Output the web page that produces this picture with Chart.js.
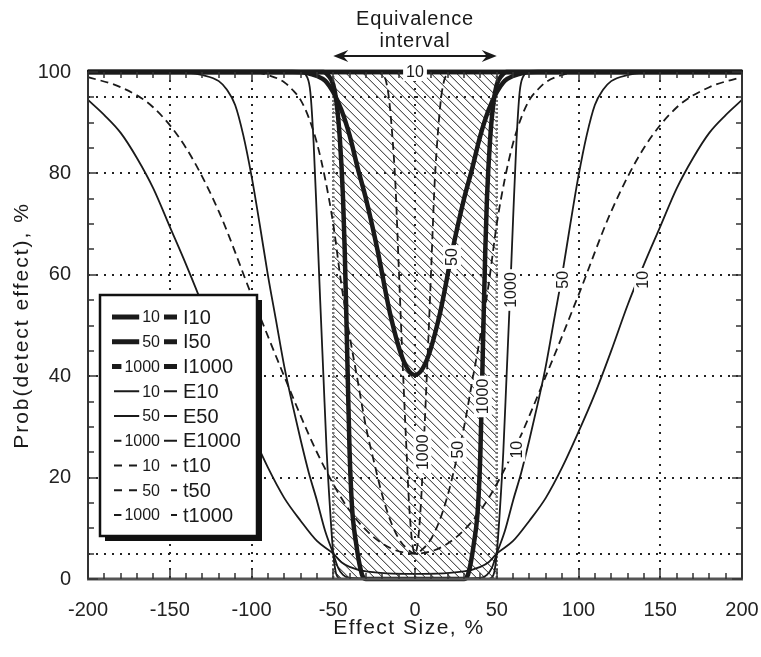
<!DOCTYPE html>
<html>
<head>
<meta charset="utf-8">
<script src="https://cdn.jsdelivr.net/npm/chart.js@4.4.1/dist/chart.umd.min.js"></script>
<style>
  html, body { margin: 0; padding: 0; background: #fff; }
  #wrap { width: 761px; height: 657px; }
</style>
</head>
<body>
<div id="wrap"><canvas id="chart" width="761" height="657"></canvas></div>
<script>
// Axis ticks and reference lines
const xTicks = [-200, -150, -100, -50, 0, 50, 100, 150, 200];
const yTicks = [0, 20, 40, 60, 80, 100];
const xGrid = [-150, -100, -50, 0, 50, 100, 150];
const yGrid = [5, 20, 40, 60, 80, 95];
const equivRange = [-50, 50];

// Curves: effect size (%) -> prob(detect effect) (%)
const xI10 = [-200, -150, -100, -50, 0, 50, 100, 150, 200];
const yI10 = [100, 100, 100, 100, 100, 100, 100, 100, 100];

const xI50 = [-200, -100, -75, -66, -60, -55, -50, -45, -40, -35, -30, -23, -15, -7, 0, 7, 15, 23, 30, 35, 40, 45, 50, 55, 60, 66, 75, 100, 200];
const yI50 = [100, 100, 100, 99.8, 99.2, 98.3, 96, 92.5, 87.5, 81, 75, 65, 52, 43, 40.2, 43, 52, 65, 75, 81, 87.5, 92.5, 96, 98.3, 99.2, 99.8, 100, 100, 100];

const xI1000 = [-200, -60, -56, -53, -50, -48, -46, -44, -43, -42, -41, -40, -39, -38, -36, -34, -32, -30, 0, 30, 32, 34, 36, 38, 39, 40, 41, 42, 43, 44, 46, 48, 50, 53, 56, 60, 200];
const yI1000 = [100, 100, 100, 99.3, 97.5, 94, 87, 75, 65, 52, 38, 25, 17, 12, 7, 3, 0.5, 0, 0, 0, 0.5, 3, 7, 12, 17, 25, 38, 52, 65, 75, 87, 94, 97.5, 99.3, 100, 100, 100];

const xE10 = [-200, -190, -180, -170, -160, -150, -140, -130, -120, -110, -100, -90, -80, -70, -60, -50, -45, -40, -30, 0, 30, 40, 45, 50, 60, 70, 80, 90, 100, 110, 120, 130, 140, 150, 160, 170, 180, 190, 200];
const yE10 = [94.5, 91.5, 88, 83, 77, 69.5, 62, 54, 45, 36.5, 29, 22, 16, 11.5, 7.5, 5, 3.3, 2.4, 1.5, 1, 1.5, 2.4, 3.3, 5, 7.5, 11.5, 16, 22, 29, 36.5, 45, 54, 62, 69.5, 77, 83, 88, 91.5, 94.5];

const xE50 = [-200, -150, -140, -130, -120, -115, -110, -105, -100, -95, -90, -85, -80, -75, -70, -65, -60, -55, -50, -47, -44, -40, 0, 40, 44, 47, 50, 55, 60, 65, 70, 75, 80, 85, 90, 95, 100, 105, 110, 115, 120, 130, 140, 150, 200];
const yE50 = [100, 100, 99.9, 99.4, 98.2, 96.5, 93.5, 87.5, 79.5, 70, 60, 51, 42, 34.5, 27.5, 21, 15.5, 9.5, 5, 2.2, 0.8, 0.2, 0, 0.2, 0.8, 2.2, 5, 9.5, 15.5, 21, 27.5, 34.5, 42, 51, 60, 70, 79.5, 87.5, 93.5, 96.5, 98.2, 99.4, 99.9, 100, 100];

const xE1000 = [-200, -70, -66, -64, -62, -60, -58, -56, -54, -52, -50, -48, -45, 0, 45, 48, 50, 52, 54, 56, 58, 60, 62, 64, 66, 70, 200];
const yE1000 = [100, 100, 99, 96, 86, 71, 55, 40, 25, 14, 5, 0.8, 0, 0, 0, 0.8, 5, 14, 25, 40, 55, 71, 86, 96, 99, 100, 100];

const xT10 = [-200, -180, -160, -140, -120, -100, -80, -60, -40, -20, 0, 20, 40, 60, 80, 100, 120, 140, 160, 180, 200];
const yT10 = [99, 97, 93, 85, 72.5, 56, 40, 25, 13.5, 7, 5, 7, 13.5, 25, 40, 56, 72.5, 85, 93, 97, 99];

const xT50 = [-200, -100, -90, -80, -75, -70, -65, -60, -55, -50, -45, -40, -35, -30, -25, -20, -15, -10, -5, 0, 5, 10, 15, 20, 25, 30, 35, 40, 45, 50, 55, 60, 65, 70, 75, 80, 90, 100, 200];
const yT50 = [100, 100, 99.4, 98, 96.5, 94.5, 91, 86, 79, 70, 58, 48, 39, 30, 23, 16.5, 11.5, 8, 6, 5, 6, 8, 11.5, 16.5, 23, 30, 39, 48, 58, 70, 79, 86, 91, 94.5, 96.5, 98, 99.4, 100, 100];

const xT1000 = [-200, -25, -20, -18, -16, -14, -12, -10, -8, -6, -5, -4, -2, 0, 2, 4, 5, 6, 8, 10, 12, 14, 16, 18, 20, 25, 200];
const yT1000 = [100, 100, 99.5, 98.5, 95, 88, 78, 62, 46, 31, 24, 17, 8, 5, 8, 17, 24, 31, 46, 62, 78, 88, 95, 98.5, 99.5, 100, 100];

const series = [
    { name: 'I10', tag: '10', kind: 'I', xs: xI10, ys: yI10 },
    { name: 'I50', tag: '50', kind: 'I', xs: xI50, ys: yI50 },
    { name: 'I1000', tag: '1000', kind: 'I', xs: xI1000, ys: yI1000 },
    { name: 'E10', tag: '10', kind: 'E', xs: xE10, ys: yE10 },
    { name: 'E50', tag: '50', kind: 'E', xs: xE50, ys: yE50 },
    { name: 'E1000', tag: '1000', kind: 'E', xs: xE1000, ys: yE1000 },
    { name: 't10', tag: '10', kind: 't', xs: xT10, ys: yT10 },
    { name: 't50', tag: '50', kind: 't', xs: xT50, ys: yT50 },
    { name: 't1000', tag: '1000', kind: 't', xs: xT1000, ys: yT1000 }
];

// inline contour-style labels (data coordinates)
const curveLabels = [
    { text: '10', x: 0, y: 100, flat: true },
    { text: '50', x: 22.6, y: 63.5 },
    { text: '1000', x: 41.5, y: 36 },
    { text: '1000', x: 58.5, y: 57 },
    { text: '50', x: 90.5, y: 59 },
    { text: '10', x: 139.5, y: 59 },
    { text: '10', x: 62, y: 25.5 },
    { text: '50', x: 26, y: 25.5 },
    { text: '1000', x: 4.5, y: 25 }
];

const FONT = '"Liberation Sans", Arial, Helvetica, sans-serif';
const INK = '#1a1a1a';
const lineStyles = {
    I: { width: 4.5, dash: [] },
    E: { width: 1.8, dash: [] },
    t: { width: 1.8, dash: [8, 5] }
};

function arrowHead(ctx, x, y, dir) {
    ctx.beginPath();
    ctx.moveTo(x, y);
    ctx.lineTo(x - dir * 15, y - 6);
    ctx.lineTo(x - dir * 10, y);
    ctx.lineTo(x - dir * 15, y + 6);
    ctx.closePath();
    ctx.fill();
}

const decor = {
    id: 'decor',
    beforeDatasetsDraw(chart) {
        const { ctx, chartArea: a, scales: { x, y } } = chart;
        const l = x.getPixelForValue(equivRange[0]);
        const r = x.getPixelForValue(equivRange[1]);
        const t = y.getPixelForValue(100);
        const b = y.getPixelForValue(0);

        // hatched equivalence interval
        ctx.save();
        ctx.beginPath();
        ctx.rect(l, t, r - l, b - t);
        ctx.clip();
        ctx.strokeStyle = '#222';
        ctx.lineWidth = 1;
        ctx.beginPath();
        for (let k = l - (b - t); k < r; k += 8.5) {
            ctx.moveTo(k, t);
            ctx.lineTo(k + (b - t), b);
        }
        ctx.stroke();
        ctx.restore();

        // dotted grid
        ctx.save();
        ctx.strokeStyle = '#222';
        ctx.lineWidth = 2;
        ctx.setLineDash([2, 6]);
        xGrid.forEach(v => {
            const px = Math.round(x.getPixelForValue(v));
            ctx.beginPath();
            ctx.moveTo(px, a.top);
            ctx.lineTo(px, a.bottom);
            ctx.stroke();
        });
        yGrid.forEach(v => {
            const py = Math.round(y.getPixelForValue(v));
            ctx.beginPath();
            ctx.moveTo(a.left, py);
            ctx.lineTo(a.right, py);
            ctx.stroke();
        });
        // grey dotted edge of the interval
        ctx.strokeStyle = '#777';
        ctx.lineWidth = 2.5;
        ctx.setLineDash([2, 2]);
        [l, r].forEach(px => {
            ctx.beginPath();
            ctx.moveTo(px, t);
            ctx.lineTo(px, b);
            ctx.stroke();
        });
        ctx.restore();
    },
    afterDatasetsDraw(chart) {
        const { ctx, chartArea: a, scales: { x, y } } = chart;
        ctx.save();

        // frame: heavy top (the I10 curve runs along it), grey bottom
        ctx.strokeStyle = '#333';
        ctx.lineWidth = 2;
        ctx.beginPath();
        ctx.moveTo(a.left, a.top); ctx.lineTo(a.left, a.bottom);
        ctx.moveTo(a.right, a.top); ctx.lineTo(a.right, a.bottom);
        ctx.stroke();
        ctx.strokeStyle = INK;
        ctx.lineWidth = 4.5;
        ctx.beginPath();
        ctx.moveTo(a.left - 1, y.getPixelForValue(100));
        ctx.lineTo(a.right + 1, y.getPixelForValue(100));
        ctx.stroke();
        ctx.strokeStyle = '#555';
        ctx.lineWidth = 3;
        ctx.beginPath();
        ctx.moveTo(a.left - 1, a.bottom); ctx.lineTo(a.right + 1, a.bottom);
        ctx.stroke();

        // tick marks on all four sides
        ctx.strokeStyle = '#333';
        ctx.lineWidth = 1.5;
        ctx.beginPath();
        for (let v = -200; v <= 200; v += 10) {
            const px = Math.round(x.getPixelForValue(v));
            const len = v % 50 === 0 ? 10 : 6;
            ctx.moveTo(px, a.bottom); ctx.lineTo(px, a.bottom - len);
            ctx.moveTo(px, a.top); ctx.lineTo(px, a.top + len);
        }
        for (let v = 0; v <= 100; v += 5) {
            const py = Math.round(y.getPixelForValue(v));
            const len = v % 20 === 0 ? 10 : 6;
            ctx.moveTo(a.left, py); ctx.lineTo(a.left + len, py);
            ctx.moveTo(a.right, py); ctx.lineTo(a.right - len, py);
        }
        ctx.stroke();

        // labels sitting on the curves
        ctx.font = '16px ' + FONT;
        ctx.textAlign = 'center';
        ctx.textBaseline = 'middle';
        curveLabels.forEach(lb => {
            const px = x.getPixelForValue(lb.x);
            const py = y.getPixelForValue(lb.y);
            const w = ctx.measureText(lb.text).width + 6;
            ctx.save();
            ctx.translate(px, py);
            if (!lb.flat) ctx.rotate(-Math.PI / 2);
            ctx.fillStyle = '#fff';
            ctx.fillRect(-w / 2, -9, w, 18);
            ctx.fillStyle = INK;
            ctx.fillText(lb.text, 0, 1);
            ctx.restore();
        });

        // legend box with drop shadow
        const bx = 100, by = 295, bw = 157, bh = 241;
        ctx.fillStyle = '#111';
        ctx.fillRect(bx + 5, by + 5, bw, bh);
        ctx.fillStyle = '#fff';
        ctx.fillRect(bx, by, bw, bh);
        ctx.strokeStyle = '#111';
        ctx.lineWidth = 2.5;
        ctx.strokeRect(bx, by, bw, bh);

        series.forEach((s, i) => {
            const ry = 317 + i * 24.75;
            ctx.font = '16px ' + FONT;
            const tw = ctx.measureText(s.tag).width;
            const tl = 160 - tw;
            ctx.strokeStyle = INK;
            ctx.lineWidth = s.kind === 'I' ? 5 : 2;
            ctx.setLineDash(s.kind === 't' ? [8, 7] : []);
            ctx.beginPath();
            ctx.moveTo(s.kind === 'I' ? 112 : 114, ry);
            ctx.lineTo(tl - 3, ry);
            ctx.stroke();
            ctx.setLineDash([]);
            ctx.beginPath();
            ctx.moveTo(s.kind === 't' ? 171 : 164, ry);
            ctx.lineTo(177, ry);
            ctx.stroke();
            ctx.fillStyle = INK;
            ctx.textAlign = 'left';
            ctx.textBaseline = 'middle';
            ctx.fillText(s.tag, tl, ry + 1);
            ctx.font = '20px ' + FONT;
            ctx.fillText(s.name, 183, ry + 1);
        });

        // heading and arrow over the interval
        const l = x.getPixelForValue(equivRange[0]);
        const r = x.getPixelForValue(equivRange[1]);
        const mid = (l + r) / 2;
        ctx.fillStyle = INK;
        ctx.font = '20px ' + FONT;
        ctx.letterSpacing = '0.8px';
        ctx.textAlign = 'center';
        ctx.textBaseline = 'middle';
        ctx.fillText('Equivalence', mid, 19);
        ctx.fillText('interval', mid, 41);
        ctx.strokeStyle = INK;
        ctx.lineWidth = 2;
        ctx.beginPath();
        ctx.moveTo(l + 8, 56);
        ctx.lineTo(r - 8, 56);
        ctx.stroke();
        arrowHead(ctx, l, 56, -1);
        arrowHead(ctx, r, 56, 1);

        // axis titles
        ctx.font = '21px ' + FONT;
        ctx.letterSpacing = '1.5px';
        ctx.fillText('Effect Size, %', (a.left + a.right) / 2 - 6, 628);
        ctx.save();
        ctx.translate(22, (a.top + a.bottom) / 2);
        ctx.rotate(-Math.PI / 2);
        ctx.letterSpacing = '2px';
        ctx.fillText('Prob(detect effect), %', 0, 0);
        ctx.restore();
        ctx.restore();
    }
};

document.addEventListener('DOMContentLoaded', () => {
    const ctx = document.getElementById('chart').getContext('2d');
    new Chart(ctx, {
        type: 'scatter',
        data: {
            datasets: series.map(s => ({
                label: s.name,
                data: s.xs.map((v, i) => ({ x: v, y: s.ys[i] })),
                showLine: true,
                fill: false,
                pointRadius: 0,
                borderColor: INK,
                borderWidth: lineStyles[s.kind].width,
                borderDash: lineStyles[s.kind].dash,
                cubicInterpolationMode: 'monotone',
                clip: false
            }))
        },
        options: {
            responsive: false,
            animation: false,
            devicePixelRatio: 1,
            events: [],
            layout: { padding: { top: 72, right: 19, left: 0, bottom: 0 } },
            plugins: {
                legend: { display: false },
                tooltip: { enabled: false }
            },
            scales: {
                x: {
                    type: 'linear',
                    min: -200,
                    max: 200,
                    afterBuildTicks: s => { s.ticks = xTicks.map(v => ({ value: v })); },
                    afterFit: s => {
                        s.height = 78;
                        s.paddingLeft = 0;
                        s.paddingRight = 0;
                    },
                    grid: { display: false, drawTicks: false },
                    border: { display: false },
                    ticks: {
                        color: '#222',
                        font: { size: 20, family: FONT },
                        padding: 19,
                        maxRotation: 0,
                        autoSkip: false
                    }
                },
                y: {
                    type: 'linear',
                    min: 0,
                    max: 100,
                    afterBuildTicks: s => { s.ticks = yTicks.map(v => ({ value: v })); },
                    afterFit: s => {
                        s.width = 88;
                        s.paddingTop = 0;
                        s.paddingBottom = 0;
                    },
                    grid: { display: false, drawTicks: false },
                    border: { display: false },
                    ticks: {
                        color: '#222',
                        font: { size: 20, family: FONT },
                        padding: 17,
                        autoSkip: false
                    }
                }
            }
        },
        plugins: [decor]
    });
});
</script>
</body>
</html>
